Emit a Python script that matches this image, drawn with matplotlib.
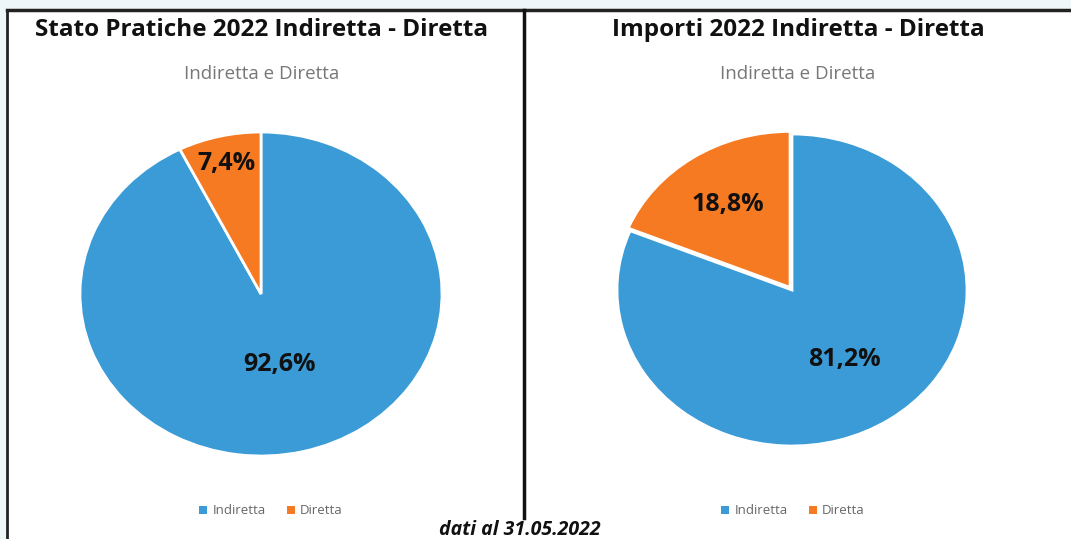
import matplotlib.pyplot as plt
from matplotlib.patches import Rectangle
from matplotlib.lines import Line2D
import numpy as np

plt.rcParams['font.family'] = ['Open Sans', 'DejaVu Sans']

# Dati
categorie = ["Indiretta", "Diretta"]
pratiche = [92.6, 7.4]
importi = [81.2, 18.8]
titoli = ["Stato Pratiche 2022 Indiretta - Diretta", "Importi 2022 Indiretta - Diretta"]
sottotitolo = "Indiretta e Diretta"
nota = "dati al 31.05.2022"

COLORI = ["#3a9bd6", "#f57a21"]
W, H = 1071, 539

fig = plt.figure(figsize=(W / 100, H / 100), dpi=100, facecolor="#eef6f9")

# Riquadro bianco con bordo
fig.patches.append(Rectangle((7 / W, 0), 1, (H - 10) / H, transform=fig.transFigure,
                             facecolor="white", edgecolor="none", zorder=-5))
fig.lines.append(Line2D([7 / W, 1], [(H - 10) / H] * 2, transform=fig.transFigure,
                        color="#222222", lw=2.5))
fig.lines.append(Line2D([7 / W] * 2, [0, (H - 10) / H], transform=fig.transFigure,
                        color="#222222", lw=2))
fig.lines.append(Line2D([524 / W] * 2, [(H - 518) / H, (H - 10) / H], transform=fig.transFigure,
                        color="#111111", lw=2.5))


def pie_panel(valori, titolo, cx, cy, rx, ry, title_x, leg_x, explode, dist):
    ax = fig.add_axes([(cx - rx) / W, (H - cy - ry) / H, 2 * rx / W, 2 * ry / H])
    ax.patch.set_alpha(0)
    wedges, _ = ax.pie(valori, colors=COLORI, startangle=90, counterclock=False,
                       explode=explode, wedgeprops=dict(edgecolor="white", linewidth=2))
    ax.set_aspect("auto")
    ax.set_xlim(-1, 1)
    ax.set_ylim(-1, 1)
    ax.axis("off")
    for w, d, v in zip(wedges, dist, valori):
        ang = np.deg2rad((w.theta1 + w.theta2) / 2)
        ax.text(d * np.cos(ang), d * np.sin(ang), f"{v:.1f}%".replace(".", ","),
                ha="center", va="center", fontsize=18, fontweight="bold", color="#111111")

    fig.text(title_x / W, (H - 30) / H, titolo, ha="center", va="center",
             fontsize=17.5, fontweight="bold", color="#111111")
    fig.text(title_x / W, (H - 74) / H, sottotitolo, ha="center", va="center",
             fontsize=13.5, color="#777777")

    handles = [Rectangle((0, 0), 1, 1, facecolor=c) for c in COLORI]
    fig.legend(handles, categorie, loc="center", bbox_to_anchor=(leg_x / W, (H - 511) / H),
               ncol=2, frameon=False, fontsize=9.5, labelcolor="#666666",
               handlelength=0.6, handleheight=0.6, handletextpad=0.4, columnspacing=1.6)


pie_panel(pratiche, titoli[0], 261, 294, 181, 162, 262, 271, [0, 0], [0.45, 0.83])
pie_panel(importi, titoli[1], 792, 290, 175, 156, 798, 793, [0, 0.02], [0.54, 0.66])

fig.text(520 / W, (H - 530) / H, nota, ha="center", va="center",
         fontsize=14, fontweight="bold", fontstyle="italic", color="#111111")

fig.savefig("out.png", dpi=100, facecolor=fig.get_facecolor())
